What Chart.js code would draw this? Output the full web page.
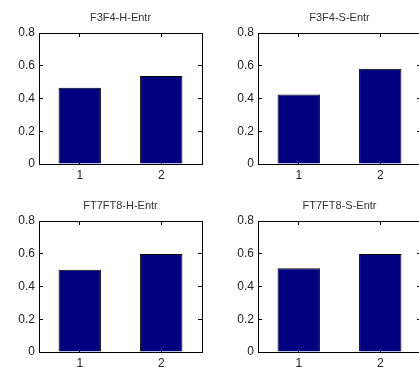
<!DOCTYPE html>
<html>
<head>
<meta charset="utf-8">
<script src="https://cdn.jsdelivr.net/npm/chart.js@4"></script>
<style>
  body { margin: 0; background: #fff; overflow: hidden; }
  #page { position: relative; width: 419px; height: 367px; overflow: hidden; background: #fff; }
  .panel { position: absolute; width: 210px; height: 183px; }
</style>
</head>
<body>
<div id="page">
  <div class="panel" style="left:0px;top:0px"><canvas id="c1"></canvas></div>
  <div class="panel" style="left:219px;top:0px"><canvas id="c2"></canvas></div>
  <div class="panel" style="left:0px;top:188px"><canvas id="c3"></canvas></div>
  <div class="panel" style="left:219px;top:188px"><canvas id="c4"></canvas></div>
</div>
<script>
// data
const categories = ['1', '2'];
const titles = ['F3F4-H-Entr', 'F3F4-S-Entr', 'FT7FT8-H-Entr', 'FT7FT8-S-Entr'];
const f3f4H = [0.465, 0.538];
const f3f4S = [0.424, 0.581];
const ft7ft8H = [0.502, 0.599];
const ft7ft8S = [0.512, 0.599];
const yTicks = [0, 0.2, 0.4, 0.6, 0.8];

const fam = 'Liberation Sans, Arial, sans-serif';

// matlab style: box all round, short ticks pointing inwards
const tickGrid = { offset: false, drawOnChartArea: false, tickLength: -4, color: '#000' };
const setYTicks = s => { s.ticks = yTicks.map(v => ({ value: v })); };

function makeChart(id, title, values) {
  return new Chart(document.getElementById(id), {
    type: 'bar',
    data: {
      labels: categories,
      datasets: [{
        data: values,
        backgroundColor: '#000080',
        borderColor: '#000',
        borderWidth: 1,
        barPercentage: 0.52,
        categoryPercentage: 1
      }]
    },
    options: {
      responsive: true,
      maintainAspectRatio: false,
      animation: false,
      layout: { padding: { right: 8 } },
      scales: {
        x: {
          position: 'bottom',
          grid: tickGrid,
          border: { color: '#000', width: 1 },
          ticks: { color: '#222', padding: 8, font: { family: fam, size: 12 } },
          afterFit: s => { s.height = 19; }
        },
        x2: {
          type: 'category',
          position: 'top',
          offset: true,
          grid: tickGrid,
          border: { color: '#000', width: 1 },
          ticks: { display: false },
          afterFit: s => { s.height = 0; }
        },
        y: {
          min: 0,
          max: 0.8,
          grid: tickGrid,
          border: { color: '#000', width: 1 },
          ticks: { color: '#222', padding: 8, font: { family: fam, size: 12 } },
          afterBuildTicks: setYTicks,
          afterFit: s => { s.width = 39; }
        },
        y2: {
          type: 'linear',
          position: 'right',
          min: 0,
          max: 0.8,
          grid: tickGrid,
          border: { color: '#000', width: 1 },
          ticks: { display: false },
          afterBuildTicks: setYTicks,
          afterFit: s => { s.width = 0; }
        }
      },
      plugins: {
        legend: { display: false },
        tooltip: { enabled: false },
        title: {
          display: true,
          text: title,
          fullSize: false,
          color: '#333',
          font: { family: fam, size: 11, weight: 'normal', lineHeight: '12px' },
          padding: { top: 12, bottom: 9 }
        }
      }
    }
  });
}

makeChart('c1', titles[0], f3f4H);
makeChart('c2', titles[1], f3f4S);
makeChart('c3', titles[2], ft7ft8H);
makeChart('c4', titles[3], ft7ft8S);
</script>
</body>
</html>
